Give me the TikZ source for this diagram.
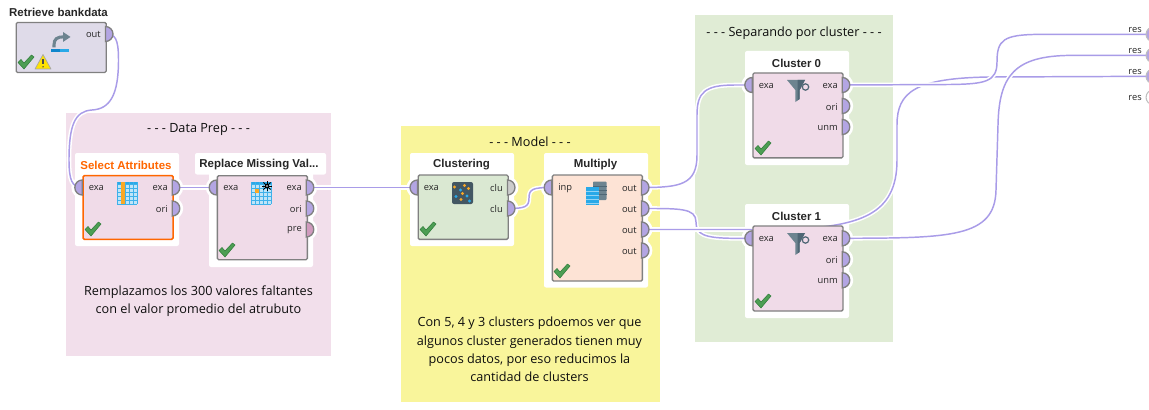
\documentclass[tikz,border=0pt]{standalone}
\usepackage{fontspec}
\setmainfont{Open Sans}
\newfontfamily\titlefont{Liberation Sans}
\definecolor{bgpink}{HTML}{F2DFEB}
\definecolor{bgyellow}{HTML}{F9F59B}
\definecolor{bggreen}{HTML}{E0ECD5}
\definecolor{wirecol}{HTML}{A99CE8}
\definecolor{portcol}{HTML}{B3A5E3}
\definecolor{portedge}{HTML}{808080}
\definecolor{retfill}{HTML}{DFDBE9}
\definecolor{pinkfill}{HTML}{F0DBE8}
\definecolor{greenfill}{HTML}{DAE8D2}
\definecolor{peachfill}{HTML}{FDE3D5}
\definecolor{orangesel}{HTML}{FF6600}
\definecolor{chk}{HTML}{4D9E54}
\definecolor{chkdark}{HTML}{2F7D3A}
\definecolor{icblue}{HTML}{29A9E8}
\definecolor{icdblue}{HTML}{0F86CC}
\definecolor{icgray}{HTML}{6D8490}
\definecolor{icdark}{HTML}{4F6775}
\definecolor{icorange}{HTML}{F9A825}
\definecolor{preport}{HTML}{D09ABD}
\tikzset{
  opbox/.style={draw=portedge,line width=1pt,rounded corners=1pt,inner sep=0pt,anchor=north west,minimum width=67.5pt},
  halo/.style={fill=white,rounded corners=1.5pt},
  wire/.style={draw=wirecol,line width=1.1pt,preaction={draw=white,line width=3.4pt}},
  optitle/.style={font=\titlefont\bfseries\fontsize{8.6pt}{10pt}\selectfont,text=black!85,inner sep=0pt},
  portlabel/.style={font=\fontsize{7pt}{8pt}\selectfont,text=black!85,inner sep=0pt},
  note/.style={font=\fontsize{9.5pt}{13.8pt}\selectfont,text=black!95,inner sep=0pt,align=center},
  portshape/.style={fill=portcol,draw=portedge,line width=1pt},
  respt/.style={draw=black!25,line width=0.8pt},
}
% halo + coordinate of a port
\newcommand\haloport[3]{\coordinate (#1) at (#2,#3);\fill[white] (#1) circle[radius=8.2pt];}
\newcommand\portR[2][portcol]{\filldraw[portshape,fill=#1] (#2)+(0,-7.5) arc[start angle=90,end angle=-90,radius=5.625pt] -- cycle;}
\newcommand\portL[2][portcol]{\filldraw[portshape,fill=#1] (#2)+(0,-7.5) arc[start angle=90,end angle=270,radius=5.625pt] -- cycle;}
\newcommand\checkmk[2]{\filldraw[fill=chk,draw=chkdark,line width=0.4pt,line join=round,shift={(#1,#2)}] (0,7.5)--(3,4.5)--(6,8)--(13.5,0)--(16,2)--(6,14)--cycle;}
\newcommand\tableicon[2]{\begin{scope}[shift={(#1,#2)}]
  \fill[icblue!30] (0,0) rectangle (20,22);
  \fill[icblue] (0,0) rectangle (20,2);
  \foreach \q in {0,4,8,12,16,20}{\draw[icblue!90,line width=0.35pt] (\q,0)--(\q,22);}
  \foreach \q in {2,6,10,14,18,22}{\draw[icblue!90,line width=0.35pt] (0,\q)--(20,\q);}
\end{scope}}
\newcommand\funnel[2]{\begin{scope}[shift={(#1,#2)}]
  \draw[icdark,line width=0.9pt] (18.5,7) circle[radius=2.4pt];
  \fill[icgray] (0,0)--(18,0)--(12.7,10)--(12.7,19)--(8.3,22)--(8.3,10)--cycle;
  \fill[icdark] (10.5,0)--(18,0)--(12.7,10)--(12.7,19)--(10.5,20.5)--cycle;
\end{scope}}
\begin{document}
\begin{tikzpicture}[x=0.75pt,y=-0.75pt]
\useasboundingbox (0,0) rectangle (1149,410);
\clip (0,0) rectangle (1149,410);
% group backgrounds
\fill[bgpink] (66,113) rectangle (331,356);
\fill[bgyellow] (401,126) rectangle (660,402);
\fill[bggreen] (695,15) rectangle (893,342);
% annotation text
\node[note] (tdp) at (198.5,130) {- - - Data Prep - - -};
\node[note] (tdpn) at (198.5,301) {Remplazamos los 300 valores faltantes\\con el valor promedio del atrubuto};
\node[note] (tmo) at (530,142) {- - - Model - - -};
\node[note] (tmon) at (529.5,349.5) {Con 5, 4 y 3 clusters pdoemos ver que\\algunos cluster generados tienen muy\\pocos datos, por eso reducimos la\\cantidad de clusters};
\node[note] (tse) at (794,33) {- - - Separando por cluster - - -};
% white halos
\fill[halo] (75,153) rectangle (179,246);
\fill[halo] (195,153) rectangle (326,174.5);
\fill[halo] (209,170) rectangle (313,267);
\fill[halo] (410,153) rectangle (514,246);
\fill[halo] (544,153) rectangle (648,287.5);
\fill[halo] (745,51) rectangle (849,165);
\fill[halo] (745,204) rectangle (849,318);
% ports: coordinates and halos
\haloport{reto}{105.5}{34}
\haloport{seli}{82.3}{187.5}\haloport{selo}{172.3}{187.5}\haloport{selb}{172.3}{208.5}
\haloport{repi}{216.7}{187.5}\haloport{repo}{306.3}{187.5}\haloport{repb}{306.3}{208.5}\haloport{repc}{306.3}{229.5}
\haloport{clui}{417.5}{187.5}\haloport{cluo}{507.5}{187.5}\haloport{club}{507.5}{208.5}
\haloport{muli}{551.7}{187.5}\haloport{mula}{641.5}{187.5}\haloport{mulb}{641.5}{208.5}\haloport{mulc}{641.5}{229.5}\haloport{muld}{641.5}{250.5}
\haloport{zeri}{752.3}{85}\haloport{zero}{842.3}{85}\haloport{zerb}{842.3}{106}\haloport{zerc}{842.3}{127}
\haloport{onei}{752.3}{238.3}\haloport{oneo}{842.3}{238.3}\haloport{oneb}{842.3}{259.3}\haloport{onec}{842.3}{280.3}
\coordinate (resa) at (1153.5,34.3);
\coordinate (resb) at (1153.5,55.3);
\coordinate (resc) at (1153.5,76.3);
\coordinate (resd) at (1153.5,97.3);
% wires
\draw[wire] (reto) .. controls (115,34) and (118.5,38) .. (118.5,60) .. controls (118.5,95) and (110,109) .. (92,110) .. controls (75,111) and (69,125) .. (69,160) .. controls (69,180) and (72,187.5) .. (seli);
\draw[wire] (selo) -- (repi);
\draw[wire] (repo) -- (clui);
\draw[wire] (club) .. controls (525,208.5) and (529,207) .. (529,198) .. controls (529,189) and (533,187.5) .. (muli);
\draw[wire] (mula) .. controls (680,187.5) and (697,185) .. (697,155) -- (697,115) .. controls (697,92) and (705,85) .. (735,85) -- (zeri);
\draw[wire] (mulb) .. controls (680,208.5) and (696,208) .. (696,222) .. controls (696,234) and (703,238.3) .. (735,238.3) -- (onei);
\draw[wire] (mulc) -- (790,229.5) .. controls (860,226) and (897,215) .. (897,160) -- (897,125) .. controls (897,92) and (915,78) .. (990,77) -- (resc);
\draw[wire] (zero) -- (950,84.5) .. controls (985,84) and (997,82) .. (997,62) .. controls (997,40) and (1003,34.5) .. (1040,34.4) -- (resa);
\draw[wire] (oneo) .. controls (950,238) and (995,238) .. (996,190) -- (998,125) .. controls (999,75) and (1015,56) .. (1070,55.4) -- (resb);
% operator boxes
\node[opbox,fill=retfill,minimum height=37.5pt] (ret) at (15.5,21.8) {};
\node[opbox,fill=pinkfill,draw=orangesel,line width=1.2pt,minimum height=47.8pt] (sel) at (82.3,174.8) {};
\node[opbox,fill=pinkfill,minimum height=63pt] (rep) at (216.7,175) {};
\node[opbox,fill=greenfill,minimum height=48.2pt] (clu) at (417.5,174.4) {};
\node[opbox,fill=peachfill,minimum height=79.5pt] (mul) at (551.7,174.4) {};
\node[opbox,fill=pinkfill,minimum height=63.7pt] (zer) at (752.3,72.3) {};
\node[opbox,fill=pinkfill,minimum height=63.7pt] (one) at (752.3,225.4) {};
% titles
\node[optitle] (tret) at (58.5,12) {Retrieve bankdata};
\node[optitle,text=orangesel] (tsel) at (126,165) {Select Attributes};
\node[optitle] (trep) at (259,165) {Replace Missing Val...};
\node[optitle] (tclu) at (461.5,165) {Clustering};
\node[optitle] (tmul) at (595.5,165) {Multiply};
\node[optitle] (tzer) at (796.5,63) {Cluster 0};
\node[optitle] (tone) at (796.5,216) {Cluster 1};
% ports
\portR{reto}
\portL{seli}\portR{selo}\portR{selb}
\portL{repi}\portR{repo}\portR{repb}\portR[preport]{repc}
\portL{clui}\portR[black!20]{cluo}\portR{club}
\portL{muli}\portR{mula}\portR{mulb}\portR{mulc}\portR{muld}
\portL{zeri}\portR{zero}\portR{zerb}\portR{zerc}
\portL{onei}\portR{oneo}\portR{oneb}\portR{onec}
\filldraw[respt,fill=portcol] (resa) circle[radius=5.6pt];
\filldraw[respt,fill=portcol] (resb) circle[radius=5.6pt];
\filldraw[respt,fill=portcol] (resc) circle[radius=5.6pt];
\filldraw[respt,fill=white] (resd) circle[radius=5.6pt];
% port labels
\node[portlabel,anchor=east] (lreto) at (101,34.5) {out};
\node[portlabel,anchor=west] (lseli) at (88.5,188) {exa};
\node[portlabel,anchor=east] (lselo) at (168,188) {exa};
\node[portlabel,anchor=east] (lselb) at (168,209) {ori};
\node[portlabel,anchor=west] (lrepi) at (223,188) {exa};
\node[portlabel,anchor=east] (lrepo) at (302,188) {exa};
\node[portlabel,anchor=east] (lrepb) at (302,209) {ori};
\node[portlabel,anchor=east] (lrepc) at (302,230) {pre};
\node[portlabel,anchor=west] (lclui) at (423.5,188) {exa};
\node[portlabel,anchor=east] (lcluo) at (503,188) {clu};
\node[portlabel,anchor=east] (lclub) at (503,209) {clu};
\node[portlabel,anchor=west] (lmuli) at (558,188) {inp};
\node[portlabel,anchor=east] (lmula) at (637,188) {out};
\node[portlabel,anchor=east] (lmulb) at (637,209) {out};
\node[portlabel,anchor=east] (lmulc) at (637,230) {out};
\node[portlabel,anchor=east] (lmuld) at (637,251) {out};
\node[portlabel,anchor=west] (lzeri) at (758.5,86) {exa};
\node[portlabel,anchor=east] (lzero) at (838,86) {exa};
\node[portlabel,anchor=east] (lzerb) at (838,107) {ori};
\node[portlabel,anchor=east] (lzerc) at (838,128) {unm};
\node[portlabel,anchor=west] (lonei) at (758.5,239) {exa};
\node[portlabel,anchor=east] (loneo) at (838,239) {exa};
\node[portlabel,anchor=east] (loneb) at (838,260) {ori};
\node[portlabel,anchor=east] (lonec) at (838,281) {unm};
\node[portlabel,anchor=east] (lresa) at (1142,30) {res};
\node[portlabel,anchor=east] (lresb) at (1142,51) {res};
\node[portlabel,anchor=east] (lresc) at (1142,72) {res};
\node[portlabel,anchor=east] (lresd) at (1142,98) {res};
% check marks
\checkmk{18}{55}\checkmk{85}{222}\checkmk{219}{243}\checkmk{420}{222}\checkmk{554}{264}\checkmk{755}{141}\checkmk{755}{294}
% warning triangle
\filldraw[fill=yellow!85!orange,draw=black!35,line width=0.5pt,line join=round] (43,54.5)--(51,69)--(35,69)--cycle;
\draw[black!70,line width=1pt] (43,59)--(43,64.5);
\fill[black!70] (43,66.8) circle[radius=0.6pt];
% retrieve icon
\fill[icdblue] (51,48.7) rectangle (60,52);
\fill[icblue] (60,48.7) rectangle (69,52);
\draw[icgray,line width=2.3pt] (54,47.5) -- (54,45) .. controls (54,39) and (57,36.8) .. (64,36.8);
\fill[icgray] (63,32) -- (70.5,37) -- (63,42) -- cycle;
% table icons
\tableicon{117}{182}
\fill[icorange] (121,182) rectangle (125,204);
\tableicon{251}{182}
\fill[icorange] (254.5,188.5) rectangle (258.5,192.5);
\foreach \a in {0,45,...,315}{\draw[black,line width=0.6pt] (267,186) -- ++(\a:5);}
\fill[black] (267,186) circle[radius=1.7pt];
\fill[white] (267,186) circle[radius=0.7pt];
% clustering icon
\fill[icdark!85!black,rounded corners=1.5pt] (452,182) rectangle (473,204);
\foreach \p in {(454.5,187),(464.5,185.5),(468.5,188.5),(462.5,193.5),(461,199.5)}{\fill[icorange] \p circle[radius=1.2pt];}
\foreach \p in {(460.5,190),(456,196.5),(467,196),(469.5,201)}{\fill[icblue] \p circle[radius=1.2pt];}
% multiply icon
\fill[icgray,rounded corners=0.7pt] (593,181.5) rectangle (606.5,200);
\foreach \q in {186,190,194}{\draw[icdark,line width=0.4pt] (593,\q)--(606.5,\q);}
\fill[icblue] (585.7,187) rectangle (599,205);
\foreach \q in {191,195,199,203}{\draw[white!50!icblue,line width=0.4pt] (585.7,\q)--(599,\q);}
% filter icons
\funnel{787}{80}
\funnel{787}{233}
\end{tikzpicture}
\end{document}
